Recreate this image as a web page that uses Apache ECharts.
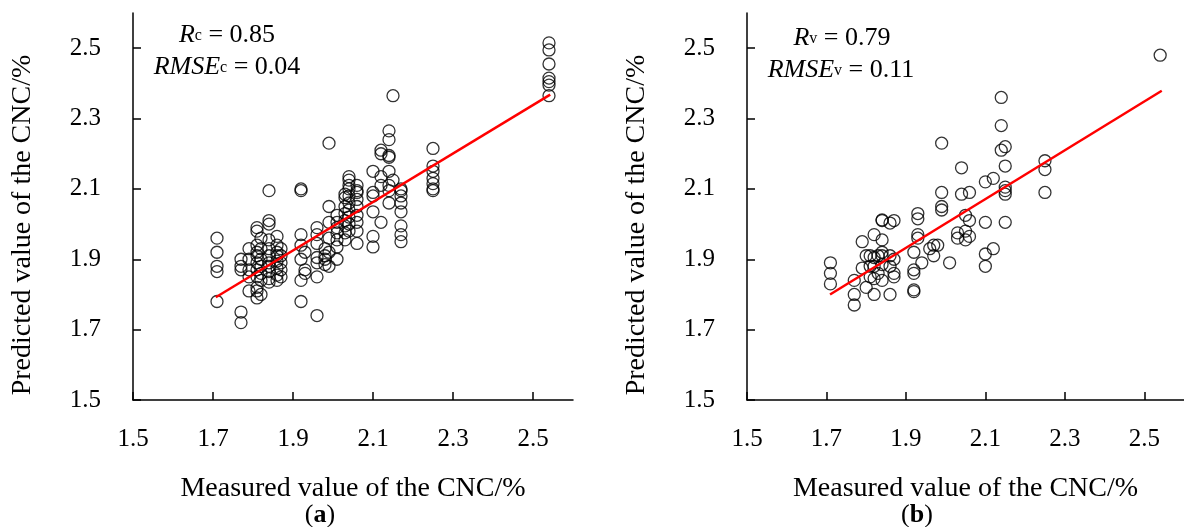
<!DOCTYPE html>
<html>
<head>
<meta charset="utf-8">
<script src="https://cdn.jsdelivr.net/npm/echarts@6/dist/echarts.min.js"></script>
<style>
  html, body { margin: 0; background: #fff; }
  #chart { width: 1184px; height: 527px; }
</style>
</head>
<body>
<div id="chart"></div>
<script>
// tick values shared by both axes of both panels
var tickValues = [1.5, 1.7, 1.9, 2.1, 2.3, 2.5];

// (a) calibration set: measured value columns and the predicted values at each
var measuredA = [1.71, 1.77, 1.79, 1.81, 1.82, 1.84, 1.86, 1.87, 1.92, 1.93, 1.96, 1.98,
                 1.99, 2.01, 2.03, 2.04, 2.06, 2.10, 2.12, 2.14, 2.15, 2.17, 2.25, 2.54];
var predictedA = [
  [1.96, 1.92, 1.88, 1.865, 1.78],
  [1.90, 1.88, 1.87, 1.75, 1.72],
  [1.93, 1.90, 1.87, 1.85, 1.81],
  [1.99, 1.98, 1.94, 1.92, 1.91, 1.89, 1.87, 1.85, 1.82, 1.81, 1.79],
  [1.96, 1.93, 1.90, 1.88, 1.86, 1.84, 1.80],
  [2.095, 2.01, 2.00, 1.955, 1.93, 1.91, 1.89, 1.88, 1.865, 1.845, 1.835],
  [1.965, 1.94, 1.92, 1.91, 1.895, 1.875, 1.855, 1.84],
  [1.93, 1.91, 1.89, 1.87, 1.85],
  [2.10, 2.095, 1.97, 1.94, 1.90, 1.84, 1.78],
  [1.92, 1.87, 1.86],
  [1.99, 1.97, 1.945, 1.905, 1.89, 1.85, 1.74],
  [1.93, 1.91, 1.90, 1.885],
  [2.23, 2.05, 2.005, 1.96, 1.92, 1.88],
  [2.025, 2.005, 1.99, 1.975, 1.955, 1.935, 1.90],
  [2.085, 2.075, 2.05, 2.03, 2.01, 1.995, 1.975, 1.955],
  [2.135, 2.125, 2.11, 2.10, 2.08, 2.06, 2.04, 2.02, 2.00, 1.98],
  [2.11, 2.095, 2.09, 2.07, 2.05, 2.025, 2.005, 1.98, 1.945],
  [2.15, 2.09, 2.08, 2.035, 1.965, 1.935],
  [2.21, 2.20, 2.135, 2.11, 2.005],
  [2.265, 2.24, 2.195, 2.19, 2.15, 2.11, 2.095, 2.06],
  [2.365, 2.125],
  [2.10, 2.095, 2.08, 2.06, 2.035, 1.995, 1.97, 1.95],
  [2.215, 2.165, 2.15, 2.13, 2.115, 2.10, 2.095],
  [2.515, 2.495, 2.455, 2.415, 2.405, 2.395, 2.365]
];
var fitXA = [1.707, 2.543];
var fitYA = [1.792, 2.368];

// (b) validation set
var measuredB = [1.71, 1.77, 1.79, 1.80, 1.81, 1.82, 1.83, 1.84, 1.86, 1.87, 1.92, 1.93, 1.94,
                 1.96, 1.97, 1.98, 1.99, 2.01, 2.03, 2.04, 2.05, 2.06, 2.10, 2.12, 2.14, 2.15, 2.25, 2.54];
var predictedB = [
  [1.89, 1.86, 1.83],
  [1.84, 1.80, 1.77],
  [1.95, 1.875],
  [1.91, 1.82],
  [1.91, 1.88, 1.85],
  [1.97, 1.905, 1.88, 1.845, 1.80],
  [1.91, 1.86],
  [2.01, 2.012, 1.955, 1.92, 1.91, 1.885, 1.84],
  [2.003, 1.91, 1.88, 1.80],
  [2.01, 1.90, 1.86, 1.85],
  [1.92, 1.87, 1.86, 1.813, 1.808],
  [2.03, 2.015, 1.97, 1.96],
  [1.89],
  [1.93],
  [1.94, 1.91],
  [1.94],
  [2.23, 2.09, 2.05, 2.04],
  [1.89],
  [1.975, 1.96],
  [2.16, 2.085],
  [2.025, 1.98, 1.955],
  [2.09, 2.01, 1.965],
  [2.12, 2.005, 1.915, 1.88],
  [2.13, 1.93],
  [2.36, 2.28, 2.21],
  [2.22, 2.165, 2.105, 2.095, 2.085, 2.005],
  [2.18, 2.155, 2.09],
  [2.48]
];
var fitXB = [1.709, 2.544];
var fitYB = [1.80, 2.379];

var SERIF = 'Liberation Serif';

function pairs(xs, ys) {
  var out = [];
  xs.forEach(function (x, i) {
    ys[i].forEach(function (y) { out.push([x, y]); });
  });
  return out;
}

function line(xs, ys) {
  return xs.map(function (x, i) { return [x, ys[i]]; });
}

var axisLine = { lineStyle: { color: '#000', width: 1.5 } };

function xAxis(i) {
  return {
    type: 'value', gridIndex: i, min: 1.5, max: 2.6,
    axisLine: axisLine,
    axisTick: { inside: true, length: 8, customValues: tickValues, lineStyle: { color: '#000', width: 1.5 } },
    axisLabel: { customValues: tickValues, margin: 27, fontSize: 25, fontFamily: SERIF, color: '#000' },
    splitLine: { show: false },
    name: 'Measured value of the CNC/%',
    nameLocation: 'middle', nameGap: 75,
    nameTextStyle: { fontSize: 28, fontFamily: SERIF, color: '#000' }
  };
}

function yAxis(i) {
  return {
    type: 'value', gridIndex: i, min: 1.5, max: 2.6,
    axisLine: axisLine,
    axisTick: { inside: true, length: 8, customValues: tickValues, lineStyle: { color: '#000', width: 1.5 } },
    axisLabel: { customValues: tickValues, margin: 32, fontSize: 25, fontFamily: SERIF, color: '#000' },
    splitLine: { show: false }
  };
}

function scatter(i, data) {
  return {
    type: 'scatter', xAxisIndex: i, yAxisIndex: i, data: data,
    symbol: 'circle', symbolSize: 12,
    itemStyle: { color: 'rgba(0,0,0,0)', borderColor: '#000', borderWidth: 1.3 },
    emphasis: { disabled: true }
  };
}

function fit(i, data) {
  return {
    type: 'line', xAxisIndex: i, yAxisIndex: i, data: data,
    symbol: 'none', lineStyle: { color: '#ff0000', width: 2.5 },
    emphasis: { disabled: true }
  };
}

var rich = {
  i: { fontStyle: 'italic', fontSize: 26, fontFamily: SERIF },
  s: { fontSize: 16, fontFamily: SERIF },
  n: { fontSize: 26, fontFamily: SERIF },
  b: { fontWeight: 'bold', fontSize: 26, fontFamily: SERIF }
};

function label(x, y, text) {
  return {
    type: 'text', x: x, y: y,
    style: { text: text, rich: rich, align: 'center', verticalAlign: 'middle', fill: '#000' }
  };
}

function yTitle(x) {
  return {
    type: 'text', x: x, y: 225, rotation: Math.PI / 2,
    style: {
      text: 'Predicted value of the CNC/%', font: '28px "Liberation Serif"',
      align: 'center', verticalAlign: 'middle', fill: '#000'
    }
  };
}

var chart = echarts.init(document.getElementById('chart'));
chart.setOption({
  animation: false,
  grid: [
    { left: 133, top: 13, width: 440, height: 387 },
    { left: 747, top: 13, width: 440, height: 387 }
  ],
  xAxis: [xAxis(0), xAxis(1)],
  yAxis: [yAxis(0), yAxis(1)],
  series: [
    scatter(0, pairs(measuredA, predictedA)),
    fit(0, line(fitXA, fitYA)),
    scatter(1, pairs(measuredB, predictedB)),
    fit(1, line(fitXB, fitYB))
  ],
  graphic: [
    label(227, 35.5, '{i|R}{s|c}{n| = 0.85}'),
    label(227, 67.5, '{i|RMSE}{s|c}{n| = 0.04}'),
    label(842, 38.5, '{i|R}{s|v}{n| = 0.79}'),
    label(841, 70.5, '{i|RMSE}{s|v}{n| = 0.11}'),
    yTitle(23),
    yTitle(637),
    label(320, 515, '{n|(}{b|a}{n|)}'),
    label(917, 515, '{n|(}{b|b}{n|)}')
  ]
});
</script>
</body>
</html>
